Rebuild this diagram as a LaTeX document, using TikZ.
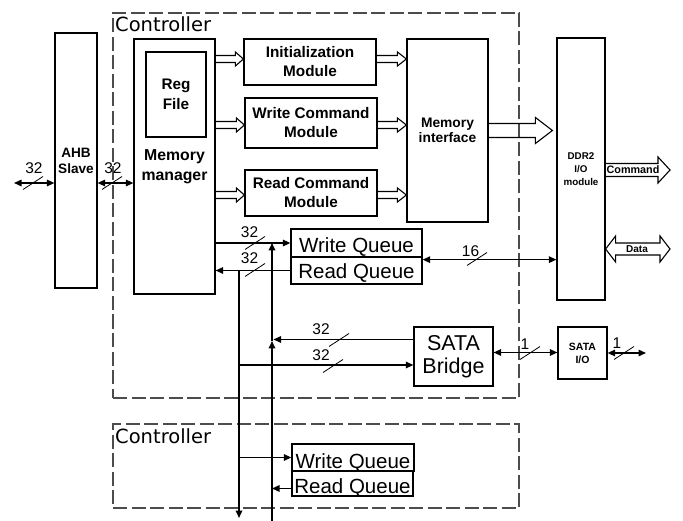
\documentclass[tikz,border=0pt]{standalone}
\usepackage{fontspec}
\setmainfont{Liberation Sans}
\newfontfamily\ctrlfont{DejaVu Sans}
\usetikzlibrary{arrows.meta,calc}

% open block arrow pointing right, from #1 to #2 (same height):
% shaft half-width #3, head half-width #4, head length #5
\newcommand{\hollowright}[5]{%
  \draw[hollow] let \p1=#1, \p2=#2 in
    (\x1,\y1+#3) -- (\x2-#5,\y1+#3) -- (\x2-#5,\y1+#4) -- (\x2,\y1)
    -- (\x2-#5,\y1-#4) -- (\x2-#5,\y1-#3) -- (\x1,\y1-#3);}
% open block arrow with heads at both ends
\newcommand{\hollowboth}[5]{%
  \draw[hollow] let \p1=#1, \p2=#2 in
    (\x1,\y1) -- (\x1+#5,\y1+#4) -- (\x1+#5,\y1+#3) -- (\x2-#5,\y1+#3)
    -- (\x2-#5,\y1+#4) -- (\x2,\y1) -- (\x2-#5,\y1-#4) -- (\x2-#5,\y1-#3)
    -- (\x1+#5,\y1-#3) -- (\x1+#5,\y1-#4) -- cycle;}

\tikzset{
  blk/.style={draw, line width=1.2pt, inner sep=0pt, align=center,
    font=\bfseries\fontsize{15.3}{19}\selectfont},
  qbox/.style={draw, line width=1.3pt, inner sep=0pt, text depth=0pt,
    font=\fontsize{20.5}{22}\selectfont},
  ctrlbox/.style={draw=black!70, line width=2.2pt, dash pattern=on 14pt off 4.5pt},
  ctrllabel/.style={inner sep=0pt, anchor=base west, font=\ctrlfont\fontsize{19.5}{22}\selectfont},
  hollow/.style={draw, line width=1.1pt, line join=miter},
  bus/.style={line width=1.4pt},
  vbus/.style={line width=1.7pt},
  wlabel/.style={inner sep=0pt, font=\fontsize{15.5}{17}\selectfont},
  buswidth/.pic={\draw[line width=0.8pt] (-10,6.5) -- (10,-6.5);},
  >={Triangle[length=7.5pt,width=6.5pt]}
}

\begin{document}
\begin{tikzpicture}[x=1pt,y=-1pt]
\useasboundingbox (0,0) rectangle (683,521);

% controller outlines
\node[ctrlbox, minimum width=406pt, minimum height=385pt] (ctrl1) at (316,205.5) {};
\node[ctrlbox, minimum width=406pt, minimum height=84pt] (ctrl2) at (316,466) {};
\node[ctrllabel] (ctrl1lab) at (115,32) {Controller};
\node[ctrllabel] (ctrl2lab) at (115,443) {Controller};

% blocks
\node[blk, minimum width=42pt, minimum height=255pt,
      font=\bfseries\fontsize{13.6}{16}\selectfont] (ahb) at (76,160.5) {AHB\\Slave};
\node[blk, minimum width=81pt, minimum height=255pt,
      font=\bfseries\fontsize{15.8}{20}\selectfont] (mm) at (174.5,166.5) {Memory\\manager};
\node[blk, minimum width=60pt, minimum height=85pt,
      font=\bfseries\fontsize{15.3}{20}\selectfont] (reg) at (176,94.5) {Reg\\File};
\node[blk, minimum width=132pt, minimum height=46pt] (init) at (310,62) {Initialization\\Module};
\node[blk, minimum width=132pt, minimum height=50pt] (wcm) at (311,123) {Write Command\\Module};
\node[blk, minimum width=132pt, minimum height=46pt] (rcm) at (311,193) {Read Command\\Module};
\node[blk, minimum width=81pt, minimum height=183pt,
      font=\bfseries\fontsize{13.8}{15.5}\selectfont] (mi) at (447.5,130.5) {Memory\\interface};
\node[blk, minimum width=48pt, minimum height=262pt,
      font=\bfseries\fontsize{9.8}{13}\selectfont] (ddr) at (581,169) {DDR2\\I/O\\module};
\node[qbox, minimum width=131pt, minimum height=28pt, text height=20pt] (wq) at (356.5,243) {Write Queue};
\node[qbox, minimum width=131pt, minimum height=27pt, text height=17pt] (rq) at (356.5,270.5) {Read Queue};
\node[blk, minimum width=79pt, minimum height=59pt,
      font=\fontsize{21.5}{23}\selectfont] (sata) at (453.5,356.5) {SATA\\Bridge};
\node[blk, minimum width=49pt, minimum height=52pt,
      font=\bfseries\fontsize{10.5}{13}\selectfont] (sio) at (582.5,353) {SATA\\I/O};
\node[qbox, minimum width=122pt, minimum height=27pt, text height=21pt] (wq2) at (353,457.5) {Write Queue};
\node[qbox, minimum width=121pt, minimum height=25pt, text height=19pt] (rq2) at (352.5,483.5) {Read Queue};

% block arrows between the command path blocks
\hollowright{([yshift=3pt]mm.east |- init.west)}{([yshift=3pt]init.west)}{3.5pt}{7pt}{8pt}
\hollowright{([yshift=-2pt]mm.east |- wcm.west)}{([yshift=-2pt]wcm.west)}{3.5pt}{7pt}{8pt}
\hollowright{([yshift=-2pt]mm.east |- rcm.west)}{([yshift=-2pt]rcm.west)}{3.5pt}{7pt}{8pt}
\hollowright{([yshift=3pt]init.east)}{([yshift=3pt]mi.west |- init.east)}{3.5pt}{7pt}{9pt}
\hollowright{([yshift=-2pt]wcm.east)}{([yshift=-2pt]mi.west |- wcm.east)}{3.5pt}{7pt}{9pt}
\hollowright{([yshift=-2pt]rcm.east)}{([yshift=-2pt]mi.west |- rcm.east)}{3.5pt}{7pt}{9pt}
\hollowright{(mi.east)}{([xshift=-4pt]ddr.west |- mi.east)}{7pt}{13pt}{17pt}

% DDR2 pins
\coordinate (cmdend) at (670,170);
\coordinate (dataend) at (670,249);
\hollowright{(ddr.east |- cmdend)}{(cmdend)}{6.5pt}{13pt}{12pt}
\hollowboth{(ddr.east |- dataend)}{(dataend)}{6pt}{13pt}{10pt}
\node[inner sep=0pt, font=\bfseries\fontsize{10.8}{12}\selectfont] (cmdtxt) at (633,170) {Command};
\node[inner sep=0pt, font=\bfseries\fontsize{10}{12}\selectfont] (datatxt) at (637,249) {Data};

% AHB buses
\coordinate (ahbext) at (14,183);
\draw[bus,<->] (ahbext) -- (ahbext -| ahb.west);
\draw[bus,<->] ([yshift=-22.5pt]ahb.east) -- ([yshift=-22.5pt]ahb.east -| mm.west);
\pic at (33,183) {buswidth};
\pic at (112,183) {buswidth};
\node[wlabel] (w1) at (34,168) {32};
\node[wlabel] (w2) at (113,168) {32};

% queue buses
\draw[bus,->] (mm.east |- wq.west) -- (wq.west);
\draw[bus,->] (rq.west) -- (rq.west -| mm.east);
\pic at (255,243) {buswidth};
\pic at (255,270) {buswidth};
\node[wlabel] (w3) at (249.5,232) {32};
\node[wlabel] (w4) at (249.5,258) {32};

\draw[bus,<->] ([yshift=-2pt]wq.south east) -- ([yshift=-2pt]wq.south east -| ddr.west);
\pic at (477,259) {buswidth};
\node[wlabel] (w5) at (470.5,251) {16};

% shared vertical buses
\coordinate (v1) at (239,518);
\coordinate (v2) at (272,521);
\path ([yshift=15.5pt]sata.west -| v2) coordinate (v2mid);
\draw[vbus,->] (v1 |- rq.west) -- (v1);
\draw[vbus,->] (v2) -- (v2mid);
\draw[vbus,->] (v2mid) -- (v2 |- wq.west);

% SATA bridge buses
\draw[bus,->,shorten >=1.5pt] ([yshift=17pt]sata.west) -- ([yshift=17pt]sata.west -| v2);
\draw[bus,->] ([yshift=-8.5pt]sata.west -| v1) -- ([yshift=-8.5pt]sata.west);
\pic at (339,340) {buswidth};
\pic at (333,366) {buswidth};
\node[wlabel] (w6) at (321,329.5) {32};
\node[wlabel] (w7) at (321,355.5) {32};

\draw[bus,<->] ([yshift=4pt]sata.east) -- ([yshift=4pt]sata.east -| sio.west);
\coordinate (sioext) at (646,353);
\draw[bus,<->] (sio.east) -- (sioext);
\pic at (530,353) {buswidth};
\pic at (624,353) {buswidth};
\node[wlabel] (w8) at (525,344) {1};
\node[wlabel] (w9) at (617,343) {1};

% second controller queues
\draw[bus,->] (v1 |- wq2.west) -- (wq2.west);
\draw[bus,->] ([yshift=-5pt]rq2.west) -- ([yshift=-5pt]rq2.west -| v2);
\end{tikzpicture}
\end{document}
